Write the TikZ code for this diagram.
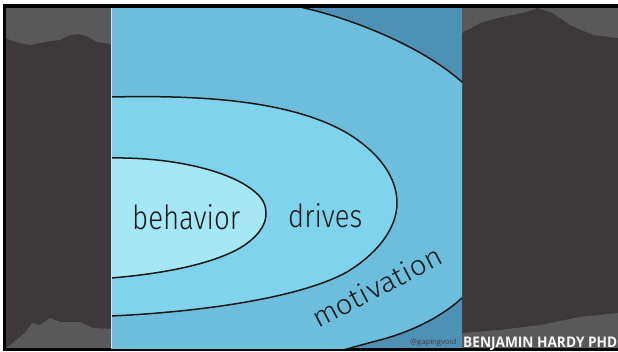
\documentclass[tikz,border=0pt]{standalone}
\usepackage{fontspec}
\newfontfamily\handfont{Fira Sans Light}
\newfontfamily\labelfont{Open Sans}
\definecolor{bgdark}{HTML}{3D393A}
\definecolor{bglight}{HTML}{595959}
\definecolor{cornerblue}{HTML}{4F90B5}
\definecolor{midblue}{HTML}{6DBDDD}
\definecolor{drivesblue}{HTML}{7FD3EC}
\definecolor{innerblue}{HTML}{A6E7F5}
\begin{document}
\begin{tikzpicture}[x=1pt,y=-1pt,
  curve/.style={draw=black!90, line width=1.5pt},
  hand/.style={inner sep=0pt, text=black!90, font=\handfont},
  greyshape/.style={fill=bglight}]
\useasboundingbox (0,0) rectangle (618,351);
\fill[white] (0,0) rectangle (618,351);
\fill[black] (3,4) rectangle (618,351);
\fill[bgdark] (6,8) rectangle (618,348);
% lighter grey blurred shapes at the sides
\fill[greyshape] (6,8) -- (111,8) -- (111,44) -- (97,42) -- (87,36) -- (78,34) -- (70,35) -- (60,40) -- (50,41) -- (40,43) -- (30,45) -- (20,43) -- (10,40) -- (6,38) -- cycle;
\fill[greyshape] (6,348) -- (25,333) -- (32,323) -- (40,325) -- (50,318) -- (60,322) -- (80,322) -- (93,328) -- (111,329) -- (111,348) -- cycle;
\fill[greyshape] (462,8) -- (462,33) -- (480,23) -- (497,18) -- (527,12) -- (537,8) -- (553,13) -- (570,25) -- (593,35) -- (618,38) -- (618,8) -- cycle;
\fill[greyshape] (462,348) -- (462,333) -- (500,330) -- (540,325) -- (580,317) -- (618,313) -- (618,348) -- cycle;
% central panel
\begin{scope}
  \clip (111,8) rectangle (462,348);
  \fill[cornerblue] (111,8) rectangle (462,348);
  \filldraw[fill=midblue, curve] (100,0) -- (275,2) .. controls (288,4) and (294,5.5) .. (300,7)
    .. controls (350,18) and (420,45) .. (462,82)
    .. controls (480,100) and (500,130) .. (500,190)
    .. controls (500,250) and (480,280) .. (462,298)
    .. controls (440,318) and (410,332) .. (380,340)
    .. controls (360,345) and (345,350) .. (320,356) -- (100,356) -- cycle;
  \filldraw[fill=drivesblue, curve] (100,97) -- (111,97)
    .. controls (200,95) and (290,100) .. (347,133)
    .. controls (380,153) and (397,178) .. (397,203)
    .. controls (397,230) and (375,255) .. (347,272)
    .. controls (300,298) and (200,312) .. (111,316) -- (100,316) -- cycle;
  \filldraw[fill=innerblue, curve] (100,158) -- (111,158)
    .. controls (170,157) and (230,170) .. (255,192)
    .. controls (265,200) and (266,208) .. (266,214)
    .. controls (266,225) and (258,237) .. (240,248)
    .. controls (210,265) and (160,274) .. (111,278) -- (100,278) -- cycle;
\end{scope}
\draw[white!75!cyan, line width=0.8pt] (111,8) -- (111,348);
% texts
\node[hand, anchor=base west] (behavior) at (132,229) {\resizebox{108pt}{25pt}{behavior}};
\node[hand, anchor=base west] (drives) at (288,227) {\resizebox{74pt}{24pt}{drives}};
\node[hand, anchor=base west, rotate=27.5] (motivation) at (318,329) {\resizebox{143pt}{21pt}{motivation}};
\node[inner sep=0pt, anchor=base west, text=black!75, font=\labelfont] (credit) at (410,344) {\resizebox{46pt}{!}{@gapingvoid}};
\node[inner sep=0pt, anchor=base west, text=white!94!gray, font=\labelfont\bfseries] (author) at (463,347.5) {\resizebox{154pt}{10.5pt}{BENJAMIN HARDY PHD}};
\end{tikzpicture}
\end{document}
